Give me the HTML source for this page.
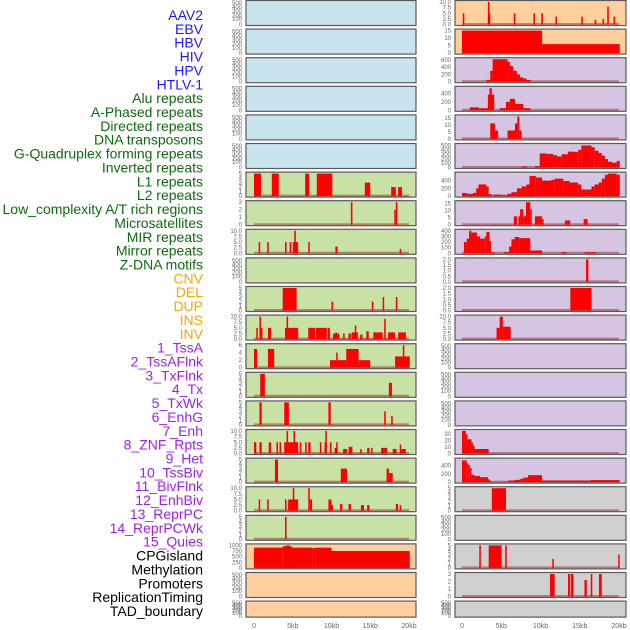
<!DOCTYPE html>
<html><head><meta charset="utf-8">
<style>
html,body{margin:0;padding:0;background:#fff;}
svg{display:block;font-family:"Liberation Sans",sans-serif;}
</style></head>
<body>
<svg id="chart" width="630" height="630" viewBox="0 0 630 630" xmlns="http://www.w3.org/2000/svg"></svg>
<script>
// ---- labels ----
const labelNames = ["AAV2","EBV","HBV","HIV","HPV","HTLV-1","Alu repeats","A-Phased repeats","Directed repeats","DNA transposons","G-Quadruplex forming repeats","Inverted repeats","L1 repeats","L2 repeats","Low_complexity A/T rich regions","Microsatellites","MIR repeats","Mirror repeats","Z-DNA motifs","CNV","DEL","DUP","INS","INV","1_TssA","2_TssAFlnk","3_TxFlnk","4_Tx","5_TxWk","6_EnhG","7_Enh","8_ZNF_Rpts","9_Het","10_TssBiv","11_BivFlnk","12_EnhBiv","13_ReprPC","14_ReprPCWk","15_Quies","CPGisland","Methylation","Promoters","ReplicationTiming","TAD_boundary"];
const labelGroups = ["v","v","v","v","v","v","r","r","r","r","r","r","r","r","r","r","r","r","r","s","s","s","s","s","c","c","c","c","c","c","c","c","c","c","c","c","c","c","c","m","m","m","m","m"];

// ---- x ticks ----
const xTickKb = [0,5,10,15,20];
const xTickLabels = ["0","5kb","10kb","15kb","20kb"];

// ---- y tick sets ----
const ticksEmpty = ["0","100","200","300","400","500"];
const ticks5 = ["0","1","2","3","4","5"];
const ticks3 = ["0","1","2","3"];
const ticks10 = ["0.0","2.5","5.0","7.5","10.0"];
const ticks6 = ["0","2","4","6"];
const ticks1000 = ["0","250","500","750","1000"];
const ticks15 = ["0","5","10","15"];
const ticks600 = ["0","200","400","600"];
const ticks400s = ["0","200","400"];
const ticks500 = ["0","100","200","300","400","500"];
const ticks400 = ["0","100","200","300","400"];
const ticks2 = ["0.0","0.5","1.0","1.5","2.0"];
const ticks30 = ["0","10","20","30"];

// ---- series data: [startKb, endKb, value] ----
const alu = [[0,0.9,5],[2.3,3.2,5],[6.6,7.1,5],[8.1,10.1,5],[14.3,15,3],[17.7,18.3,2],[18.6,19.1,2]];
const aPhased = [[12.5,12.7,3],[18.1,18.3,2],[18.3,18.5,3]];
const directed = [[0.6,0.8,5],[1.7,1.9,5],[4.0,4.2,5],[4.6,4.8,5],[5.0,5.7,5],[5.2,5.4,10],[7.0,7.2,5],[10.5,10.8,3],[18.8,19.0,2]];
const gQuad = [[3.7,5.5,5],[10.0,10.2,2],[15.2,15.4,2],[16.6,16.8,3],[18.3,18.5,3]];
const inverted = [[0.3,0.5,5],[0.7,0.9,10],[0.9,1.0,5],[1.8,2.2,5],[4.0,5.7,5],[4.2,4.4,10],[7.0,7.9,5],[8.0,9.4,5],[9.5,9.8,5],[10.2,11.0,2.5],[10.5,10.7,3],[11.5,11.7,2.5],[12.2,12.5,2.5],[12.6,13.4,3],[13.0,13.2,6],[13.7,14.0,2],[14.5,14.8,3.5],[15.4,16.6,3],[16.8,17.0,9],[17.3,18.2,3],[18.6,19.6,3]];
const l1 = [[0,0.4,5],[1.8,2.6,5],[9.8,11.9,2],[10.6,10.8,4],[11.9,13.5,5],[13.5,15,2],[18.2,20.1,3],[19.2,19.4,6]];
const l2 = [[0.8,1.4,5],[17.4,17.8,3]];
const lowComplexity = [[0.7,1.0,5],[3.9,4.5,5],[9.6,9.9,5],[16.8,17.0,3],[17.7,17.9,2]];
const microsat = [[0,0.3,5],[0.7,1.0,5],[1.9,2.2,5],[2.9,3.1,5],[3.3,3.5,5],[3.9,5.7,5],[4.2,4.4,10],[5.1,5.3,10],[5.9,6.1,5],[6.6,6.8,5],[7.0,7.3,5],[8.5,8.7,5],[9.1,9.4,5],[9.2,9.3,10],[9.8,10.0,5],[10.4,10.8,2.5],[10.6,10.7,5],[11.5,12.0,2],[12.2,12.7,3],[13.7,13.9,2],[14.6,14.9,2.5],[15.1,15.3,2.5],[16.4,17.2,2.5],[17.9,18.4,2],[18.8,18.9,4],[19.0,19.6,2]];
const mir = [[2.7,3.1,5],[11.2,12.0,3],[17.1,17.4,3],[17.4,17.9,2]];
const mirror = [[0.6,0.8,5],[1.7,1.9,5],[4.0,4.2,5],[4.4,5.7,5],[5.0,5.2,10],[7.0,7.2,10],[7.2,7.5,5],[9.6,10.0,5],[10.0,10.2,2.5],[11.1,11.4,3],[12.2,12.5,3],[13.8,14.2,2.5],[14.6,14.9,2.5],[18.3,18.6,3],[18.8,19.0,2.5]];
const zdna = [[4.0,4.2,5]];
const cnv = [[0,3.7,900],[3.7,4.9,960],[4.1,4.6,1000],[4.9,7.5,900],[7.5,7.9,880],[7.9,10,900],[10,20.1,750]];
const ins = [[0.1,0.3,5],[3.3,3.5,10],[3.3,3.6,5],[6.6,6.8,5],[9.1,9.3,5],[10.1,10.3,5],[11.9,12.1,3.5],[15.2,15.4,3.5],[16.9,17.1,2],[17.9,18.1,2.5],[18.5,18.7,8],[19.3,19.5,3.5]];
const inv = [[0,10.2,15],[10.2,20.1,6]];
const tssA = [[3.1,3.6,50],[3.6,3.9,300],[3.9,5.8,650],[5.8,6.1,550],[6.1,6.5,430],[6.5,7.0,300],[7.0,7.4,200],[7.4,7.8,120],[7.8,8.2,90],[8.2,8.75,50]];
const tssAFlnk = [[1.0,2.1,70],[2.1,3.1,50],[3.1,3.3,50],[3.3,4.1,370],[3.5,3.8,520],[4.8,5.6,50],[5.6,6.1,200],[6.1,6.75,270],[6.75,7.8,150],[7.8,8.7,50]];
const txFlnk = [[3.6,4.2,11],[4.2,4.6,6],[5.8,6.75,6],[6.75,7.05,11],[7.05,7.3,16],[7.3,7.6,6]];
const tx = [[7.6,8.3,25],[9.3,9.9,30],[9.9,10.7,320],[10.7,11.6,310],[11.6,12.1,280],[12.1,12.7,250],[12.7,13.5,300],[13.5,14.4,360],[14.4,14.8,350],[14.8,15.2,400],[15.2,16.5,500],[16.5,16.9,460],[16.9,17.4,380],[17.4,17.8,330],[17.8,18.2,270],[18.2,18.6,190],[18.6,19.1,130],[19.1,19.7,110],[19.7,20.1,150]];
const txWk = [[0,0.6,80],[0.6,1.4,60],[1.4,1.8,80],[1.8,2.1,200],[2.1,3.1,300],[3.1,3.4,250],[3.4,3.8,50],[4.0,5.1,40],[5.1,5.8,20],[5.8,6.3,60],[6.3,7.0,100],[7.0,7.6,200],[7.6,8.2,250],[8.2,8.6,300],[8.6,9.4,520],[9.4,10.2,480],[10.2,11.4,400],[11.4,11.8,420],[11.8,12.9,450],[12.9,13.7,390],[13.7,14.8,350],[14.8,15.2,300],[15.2,16.5,170],[16.5,16.9,250],[16.9,17.4,300],[17.4,17.8,350],[17.8,18.2,450],[18.2,18.6,550],[18.6,19.7,580],[19.7,20.1,550]];
const enhG = [[6.6,7.0,6],[7.2,7.4,6],[7.4,7.8,11],[7.8,8.15,6],[8.15,8.7,16],[8.7,8.8,11],[9.3,10.2,6],[10.2,10.4,4],[13.1,13.8,3],[15.5,16.0,4]];
const enh = [[0.25,0.6,200],[0.6,0.9,260],[0.9,1.2,400],[1.2,1.9,370],[1.9,2.3,300],[2.3,2.9,260],[2.9,3.1,300],[3.1,3.5,380],[3.5,3.7,220],[3.7,4.2,20],[5.35,6.0,20],[6.0,6.3,120],[6.3,6.7,250],[6.7,7.3,290],[7.3,8.7,270],[8.7,9.1,50],[9.1,10.2,50],[12.7,13.3,20],[15.6,17.1,20]];
const znf = [[15.8,16.1,2]];
const het = [[13.8,16.5,2]];
const tssBiv = [[4.4,4.8,5],[4.8,5.2,10],[5.2,6.2,5.5]];
const reprPCWk = [[0,0.5,35],[0.5,0.7,30],[0.7,1.2,22],[1.2,1.4,17],[1.4,1.6,12],[1.6,3.4,7]];
const quies = [[0,0.6,530],[0.6,0.8,460],[0.8,1.0,420],[1.0,1.2,350],[1.2,1.6,180],[1.6,2.3,150],[2.3,3.3,120],[3.3,3.5,70],[3.5,3.7,30],[3.7,5.9,5],[5.9,6.7,40],[6.7,7.4,55],[7.4,7.8,80],[7.8,8.4,110],[8.4,10.2,170],[10.2,16.4,40],[16.4,20.1,50]];
const cpg = [[3.8,5.6,5]];
const promoters = [[2.2,2.4,5],[3.4,5.05,5],[5.5,5.7,5],[11.5,11.7,2],[19.9,20.0,3]];
const replTiming = [[11.2,11.8,3],[13.5,13.75,3],[13.85,14.2,3],[15.6,15.9,2.2],[16.4,16.6,3],[17.45,17.8,3]];
const empty = [];

// panel configs: [column, row, background, ymax, ticks, series, name]
const panels = [
 [0,0,"b",500,ticksEmpty,empty,"aav2"],[0,1,"b",500,ticksEmpty,empty,"ebv"],[0,2,"b",500,ticksEmpty,empty,"hbv"],
 [0,3,"b",500,ticksEmpty,empty,"hiv"],[0,4,"b",500,ticksEmpty,empty,"hpv"],[0,5,"b",500,ticksEmpty,empty,"htlv-1"],
 [0,6,"g",5,ticks5,alu,"alu"],[0,7,"g",3,ticks3,aPhased,"a-phased"],[0,8,"g",10,ticks10,directed,"directed"],
 [0,9,"g",500,ticksEmpty,empty,"dna-transposons"],[0,10,"g",5,ticks5,gQuad,"g-quadruplex"],[0,11,"g",10,ticks10,inverted,"inverted"],
 [0,12,"g",6,ticks6,l1,"l1"],[0,13,"g",5,ticks5,l2,"l2"],[0,14,"g",5,ticks5,lowComplexity,"low-complexity"],
 [0,15,"g",10,ticks10,microsat,"microsatellites"],[0,16,"g",5,ticks5,mir,"mir"],[0,17,"g",10,ticks10,mirror,"mirror"],
 [0,18,"g",5,ticks5,zdna,"z-dna"],[0,19,"o",1000,ticks1000,cnv,"cnv"],[0,20,"o",500,ticksEmpty,empty,"del"],[0,21,"o",500,ticksEmpty,empty,"dup"],
 [1,0,"o",10,ticks10,ins,"ins"],[1,1,"o",15,ticks15,inv,"inv"],[1,2,"p",620,ticks600,tssA,"tssa"],
 [1,3,"p",530,ticks400s,tssAFlnk,"tssaflnk"],[1,4,"p",16,ticks15,txFlnk,"txflnk"],[1,5,"p",510,ticks500,tx,"tx"],
 [1,6,"p",580,ticks400s,txWk,"txwk"],[1,7,"p",16,ticks15,enhG,"enhg"],[1,8,"p",400,ticks400,enh,"enh"],
 [1,9,"p",2,ticks2,znf,"znf-rpts"],[1,10,"p",2,ticks2,het,"het"],[1,11,"p",10,ticks10,tssBiv,"tssbiv"],
 [1,12,"p",500,ticksEmpty,empty,"bivflnk"],[1,13,"p",500,ticksEmpty,empty,"enhbiv"],[1,14,"p",500,ticksEmpty,empty,"reprpc"],
 [1,15,"p",35,ticks30,reprPCWk,"reprpcwk"],[1,16,"p",550,ticks400s,quies,"quies"],
 [1,17,"k",5,ticks5,cpg,"cpgisland"],[1,18,"k",500,ticksEmpty,empty,"methylation"],[1,19,"k",5,ticks5,promoters,"promoters"],
 [1,20,"k",3,ticks3,replTiming,"replication-timing"],[1,21,"k",500,ticksEmpty,empty,"tad-boundary"]
];

const NS = "http://www.w3.org/2000/svg";
const svg = document.getElementById("chart");
const bgColors = {b:"#c8e4ec", g:"#c8e1a4", o:"#ffd09e", p:"#d6c5e2", k:"#d0d0d0"};
const labelColors = {v:"#1a1aff", r:"#0b6e0b", s:"#ffa500", c:"#a020f0", m:"#000000"};
const colX = [[246,416],[455,626]];
const colScale = [[254,409],[462,619]];
function xScale(col, kb){ return colScale[col][0] + (colScale[col][1]-colScale[col][0]) * kb / 20; }
function rowTop(r){ return 0.5 + 28.6*r; }
function rowH(r){ return r === 21 ? 16 : 25; }
function yScale(r, v, ymax){ const t = rowTop(r), h = rowH(r); return t + h - 1 - (v/ymax)*(h-2.5); }
function mk(tag, attrs){ const e = document.createElementNS(NS, tag); for (const k in attrs) e.setAttribute(k, attrs[k]); return e; }

// labels
labelNames.forEach((nm, i) => {
  const t = mk("text", {x:203, y:15 + 13.86*i + 5, "text-anchor":"end", "font-size":"14", fill:labelColors[labelGroups[i]]});
  
  
  t.textContent = nm;
  svg.appendChild(t);
});

// panels
panels.forEach(p => {
  const [col, row, bg, ymax, ticks, series, name] = p;
  const top = rowTop(row), h = rowH(row);
  const g = mk("g", {});
  
  
  const rect = mk("rect", {x:colX[col][0], y:top, width:colX[col][1]-colX[col][0], height:h, fill:bgColors[bg], stroke:"#5a5a5a", "stroke-width":"1.2"});
  
  
  g.appendChild(rect);
  // y ticks
  const tx = colX[col][0] - 4;
  if (series.length === 0) {
    const fr = [0, 0.23, 0.4, 0.58, 0.76, 0.94];
    ticks.forEach((tk, i) => {
      const ty = top + h - 1 - fr[i]*(h-2);
      const t = mk("text", {x:tx, y:ty + 2, "text-anchor":"end", "font-size":"6", fill:"#666"});
      
      
      t.textContent = tk;
      g.appendChild(t);
    });
  } else {
    ticks.forEach(tk => {
      const v = parseFloat(tk);
      const ty = yScale(row, v, ymax);
      const t = mk("text", {x:tx, y:ty + 2, "text-anchor":"end", "font-size":"6", fill:"#666"});
      
      
      t.textContent = tk;
      g.appendChild(t);
    });
    const base = mk("line", {x1:xScale(col,0), x2:xScale(col,20), y1:yScale(row,0,ymax)-0.5, y2:yScale(row,0,ymax)-0.5, stroke:"rgba(150,20,20,0.45)", "stroke-width":"2"});
    
    
    g.appendChild(base);
    series.forEach(b => {
      const x0 = xScale(col, b[0]), x1 = xScale(col, b[1]);
      const v = Math.min(b[2], ymax);
      const y0 = yScale(row, v, ymax), yb = yScale(row, 0, ymax);
      const bar = mk("rect", {x:x0, y:y0, width:Math.max(x1-x0, 1.5), height:yb-y0, fill:"#ff0000"});
      
      
      g.appendChild(bar);
    });
  }
  svg.appendChild(g);
});

// x axis labels
[0,1].forEach(col => {
  xTickKb.forEach((kb, i) => {
    const t = mk("text", {x:xScale(col, kb), y:628, "text-anchor":"middle", "font-size":"7", fill:"#666"});
    
    
    t.textContent = xTickLabels[i];
    svg.appendChild(t);
  });
});
</script>
</body></html>
